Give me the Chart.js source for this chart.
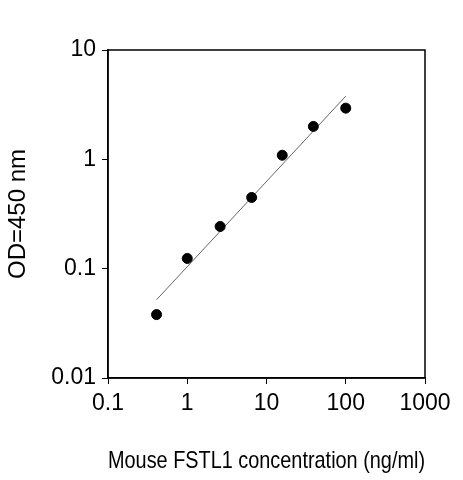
<!DOCTYPE html>
<html><head><meta charset="utf-8">
<script src="https://cdn.jsdelivr.net/npm/chart.js@4"></script>
<style>html,body{margin:0;background:#fff}#w{width:463px;height:480px}</style>
</head><body><div id="w"><canvas id="c"></canvas></div>
<script>
const concentrations = [0.41, 1.0, 2.6, 6.5, 15.8, 39, 100];
const odValues = [0.038, 0.124, 0.243, 0.448, 1.09, 2.0, 2.94];
const fitX = [0.41, 100];
const fitY = [0.052, 3.78];
const xTicks = [0.1, 1, 10, 100, 1000];
const yTicks = [0.01, 0.1, 1, 10];
const font = {family: 'Liberation Sans, Arial', size: 23};
const titleFont = {family: 'Liberation Sans, Arial', size: 24};
const boxPlugin = {id:'box', afterDraw(ch){const a=ch.chartArea,c=ch.ctx;c.save();c.strokeStyle='#000';c.lineWidth=1.5;c.strokeRect(a.left,a.top,a.right-a.left,a.bottom-a.top);c.restore();}};
new Chart(document.getElementById('c'), {
  type: 'scatter',
  data: {datasets: [
    {data: concentrations.map((x,i)=>({x, y: odValues[i]})), backgroundColor:'#000', borderColor:'#000', pointRadius:5, pointHoverRadius:5},
    {data: fitX.map((x,i)=>({x, y: fitY[i]})), showLine:true, borderColor:'#666', borderWidth:1, pointRadius:0}
  ]},
  options: {
    responsive:true, maintainAspectRatio:false, animation:false,
    layout:{padding:{top:50,right:38,left:0,bottom:0}},
    plugins:{legend:{display:false}, tooltip:{enabled:false}},
    scales:{
      x:{type:'logarithmic', min:0.1, max:1000,
        afterBuildTicks(s){s.ticks=xTicks.map(v=>({value:v}));},
        afterFit(s){s.height=102;},
        ticks:{color:'#000', font, maxRotation:0, padding:6, callback:v=>String(v)},
        grid:{drawOnChartArea:false, color:'#000', tickLength:6},
        border:{color:'#000', width:1.5},
        title:{display:true, text:'Mouse FSTL1 concentration (ng/ml)', color:'#000', font:titleFont, padding:{top:16}}},
      y:{type:'logarithmic', min:0.01, max:10,
        afterBuildTicks(s){s.ticks=yTicks.map(v=>({value:v}));},
        afterFit(s){s.width=108;},
        ticks:{color:'#000', font, padding:6, callback:v=>String(v)},
        grid:{drawOnChartArea:false, color:'#000', tickLength:6},
        border:{color:'#000', width:1.5},
        title:{display:true, text:'OD=450 nm', color:'#000', font:titleFont, padding:{bottom:4}}}
    }
  },
  plugins:[boxPlugin]
});
</script></body></html>
